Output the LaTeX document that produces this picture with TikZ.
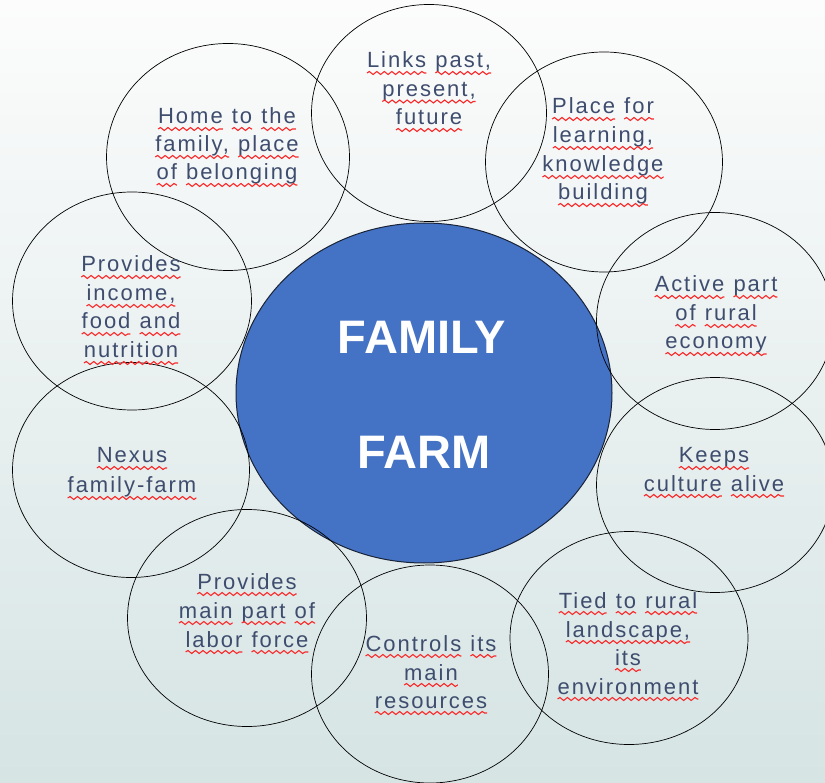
\documentclass[tikz,border=0pt]{standalone}
\usepackage{fontspec}
\usetikzlibrary{shapes.geometric,decorations.pathmorphing}
\setmainfont{Liberation Sans}
\newfontfamily\circfont[LetterSpace=9]{Liberation Sans}
\newfontfamily\farmfont{Liberation Sans}
\definecolor{txtcol}{RGB}{62,76,110}
\definecolor{wavered}{RGB}{250,40,40}
\definecolor{farmblue}{RGB}{68,114,196}
\definecolor{farmedge}{RGB}{25,35,55}
\definecolor{bgtop}{RGB}{252,252,252}
\definecolor{bgmid}{RGB}{242,246,240}
\definecolor{bgbot}{RGB}{214,228,228}
\newdimen\lnw \newdimen\wdw \newdimen\curx \newdimen\spw
\newcount\wc
\newcommand\lblfont{\circfont\fontsize{22}{28.8}\selectfont}
\newcommand\measure[2]{\settowidth#1{\pgfinterruptpicture\lblfont#2\endpgfinterruptpicture}}
\newcommand\wline[3]{%
  \global\lnw=0pt
  \foreach \wrd in {#3}{\measure\wdw{\wrd}\global\advance\lnw by\wdw\global\advance\lnw by\spw}%
  \global\advance\lnw by-\spw
  \global\curx=#1pt
  \global\advance\curx by -0.5\lnw
  \foreach \wrd in {#3}{%
    \global\advance\wc by 1
    \measure\wdw{\wrd}%
    \pgfmathsetmacro\cxn{\curx}%
    \node[wordtxt, anchor=base west] (w\the\wc) at (\cxn,#2) {\wrd};
    \draw[wave] ([yshift=-5pt]w\the\wc.base west) -- ([yshift=-5pt]w\the\wc.base east);
    \global\advance\curx by\wdw
    \global\advance\curx by\spw
  }%
}
\begin{document}
\begin{tikzpicture}[x=1pt,y=-1pt,
  ring/.style={ellipse, draw=black, line width=0.7pt, inner sep=0pt},
  wordtxt/.style={font=\lblfont, text=txtcol, inner sep=0pt, outer sep=0pt},
  wave/.style={draw=wavered, line width=1.1pt, decorate, decoration={snake, amplitude=1.5pt, segment length=7.5pt}},
  bigtxt/.style={font=\farmfont\bfseries\fontsize{47}{52}\selectfont, text=white, inner sep=0pt}]
\measure\spw{x\ x}\measure\wdw{xx}\global\advance\spw by -\wdw
\global\advance\spw by 3pt
\useasboundingbox (0,0) rectangle (825,783);
\fill[top color=bgtop, middle color=bgmid, bottom color=bgbot] (0,0) rectangle (825,783);
% centre
\node[ellipse, fill=farmblue, draw=farmedge, line width=1pt, minimum width=376pt, minimum height=340pt, inner sep=0pt] (farm) at (424,393) {};
\node[bigtxt] (fam) at (422,337) {FAMILY};
\node[bigtxt] (frm) at (424,452) {FARM};
% rings
\node[ring, minimum width=243pt, minimum height=227pt] (c1) at (228,157) {};
\node[ring, minimum width=235pt, minimum height=217pt] (c2) at (429,113) {};
\node[ring, minimum width=237pt, minimum height=220pt] (c3) at (604,162) {};
\node[ring, minimum width=239pt, minimum height=218pt] (c4) at (132,301) {};
\node[ring, minimum width=237pt, minimum height=217pt] (c5) at (715,321) {};
\node[ring, minimum width=237pt, minimum height=215pt] (c6) at (131,470) {};
\node[ring, minimum width=237pt, minimum height=215pt] (c7) at (715,485) {};
\node[ring, minimum width=239pt, minimum height=217pt] (c8) at (247,618) {};
\node[ring, minimum width=237pt, minimum height=218pt] (c9) at (430,674) {};
\node[ring, minimum width=238pt, minimum height=213pt] (c10) at (629,638) {};
% labels
\wline{227}{124}{Home,to,the}
\wline{227}{152}{{family,},place}
\wline{227}{180}{of,belonging}
\wline{429}{68}{Links,{past,}}
\wline{429}{96.5}{{present,}}
\wline{429}{125}{future}
\wline{603}{114}{Place,for}
\wline{603}{143}{{learning,}}
\wline{603}{172}{knowledge}
\wline{603}{200}{building}
\wline{131}{272}{Provides}
\wline{131}{301}{{income,}}
\wline{131}{329}{food,and}
\wline{131}{358}{nutrition}
\wline{716}{292}{Active,part}
\wline{716}{321}{of,rural}
\wline{716}{349}{economy}
\wline{132}{463}{Nexus}
\wline{132}{493}{family-farm}
\wline{714}{463}{Keeps}
\wline{714}{491}{culture,alive}
\wline{247}{589}{Provides}
\wline{247}{618}{main,part,of}
\wline{247}{647}{labor,force}
\wline{431}{651}{Controls,its}
\wline{431}{680}{main}
\wline{431}{708}{resources}
\wline{628}{608}{Tied,to,rural}
\wline{628}{637}{{landscape,}}
\wline{628}{665}{its}
\wline{628}{694}{environment}
\end{tikzpicture}
\end{document}
